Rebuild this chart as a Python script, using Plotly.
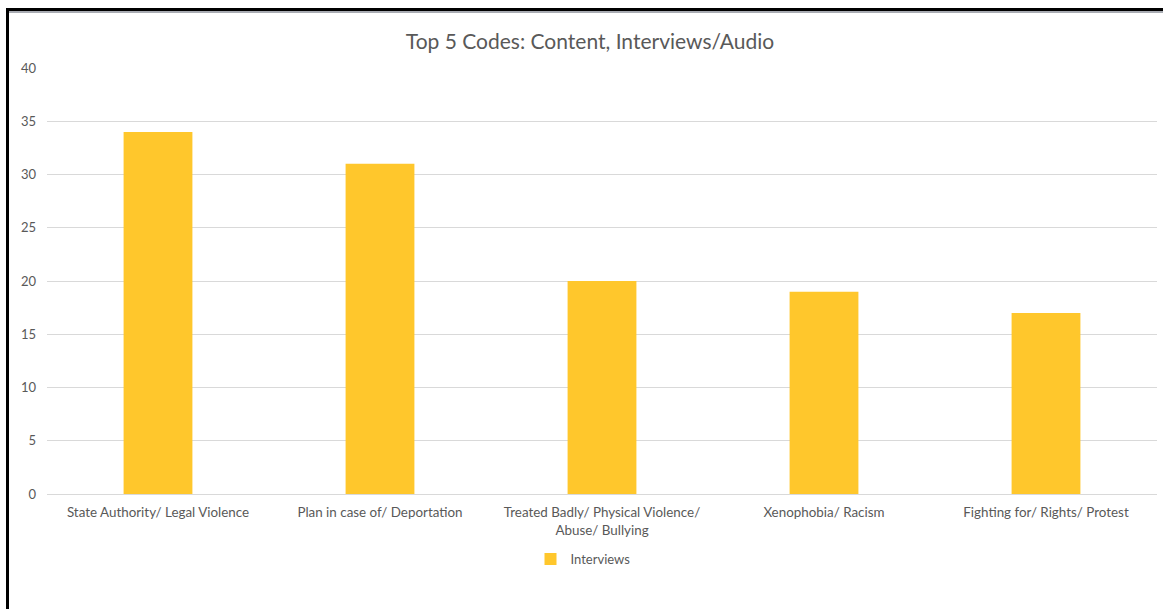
import plotly.graph_objects as go

categories = [
    "State Authority/ Legal Violence",
    "Plan in case of/ Deportation",
    "Treated Badly/ Physical Violence/<br>Abuse/ Bullying",
    "Xenophobia/ Racism",
    "Fighting for/ Rights/ Protest",
]
interviews = [34, 31, 20, 19, 17]
y_ticks = [0, 5, 10, 15, 20, 25, 30, 35, 40]

W, H = 1163, 609
L, R, T, B = 47, 6, 68, 115
pw, ph = W - L - R, H - T - B

def px_x(p):
    return (p - L) / pw

def px_y(p):
    return (H - B - p) / ph

fig = go.Figure()
fig.add_trace(go.Bar(
    x=categories, y=interviews, name="Interviews",
    marker=dict(color="#FFC72C", line=dict(width=0)),
    width=0.31,
))

font = "Lato, Calibri, 'Open Sans', sans-serif"
fig.update_layout(
    width=W, height=H,
    margin=dict(l=L, r=R, t=T, b=B),
    paper_bgcolor="white", plot_bgcolor="white",
    font=dict(family=font, size=13, color="#595959"),
    title=dict(text="Top 5 Codes: Content, Interviews/Audio", x=590 / W, xanchor="center",
               y=1 - 42 / H, yanchor="middle",
               font=dict(size=21, color="#595959", family=font)),
    showlegend=True,
    legend=dict(orientation="h", x=px_x(593 - 10), xanchor="center", y=px_y(559), yanchor="middle",
                font=dict(size=13, color="#595959"), itemwidth=30),
    bargap=0.69,
    xaxis=dict(showgrid=False, showline=False, ticks="", tickfont=dict(size=13.4),
               ticklabelstandoff=9),
    yaxis=dict(range=[0, 40], tickvals=y_ticks, showgrid=True, gridcolor="#d9d9d9",
               gridwidth=1, zeroline=True, zerolinecolor="#d9d9d9", zerolinewidth=1,
               ticks="", ticklabelstandoff=10, tickfont=dict(size=13), showline=False),
)

# Black frame on left and top (screenshot border)
fig.add_shape(type="line", xref="paper", yref="paper",
              x0=px_x(7.5), x1=px_x(7.5), y0=px_y(609), y1=px_y(9.5),
              line=dict(color="black", width=3))
fig.add_shape(type="line", xref="paper", yref="paper",
              x0=px_x(6), x1=px_x(1163), y0=px_y(9.5), y1=px_y(9.5),
              line=dict(color="black", width=3))
fig.add_shape(type="line", xref="paper", yref="paper",
              x0=px_x(9), x1=px_x(1163), y0=px_y(12), y1=px_y(12),
              line=dict(color="#a9acb3", width=2))

fig.write_html("out.html")
